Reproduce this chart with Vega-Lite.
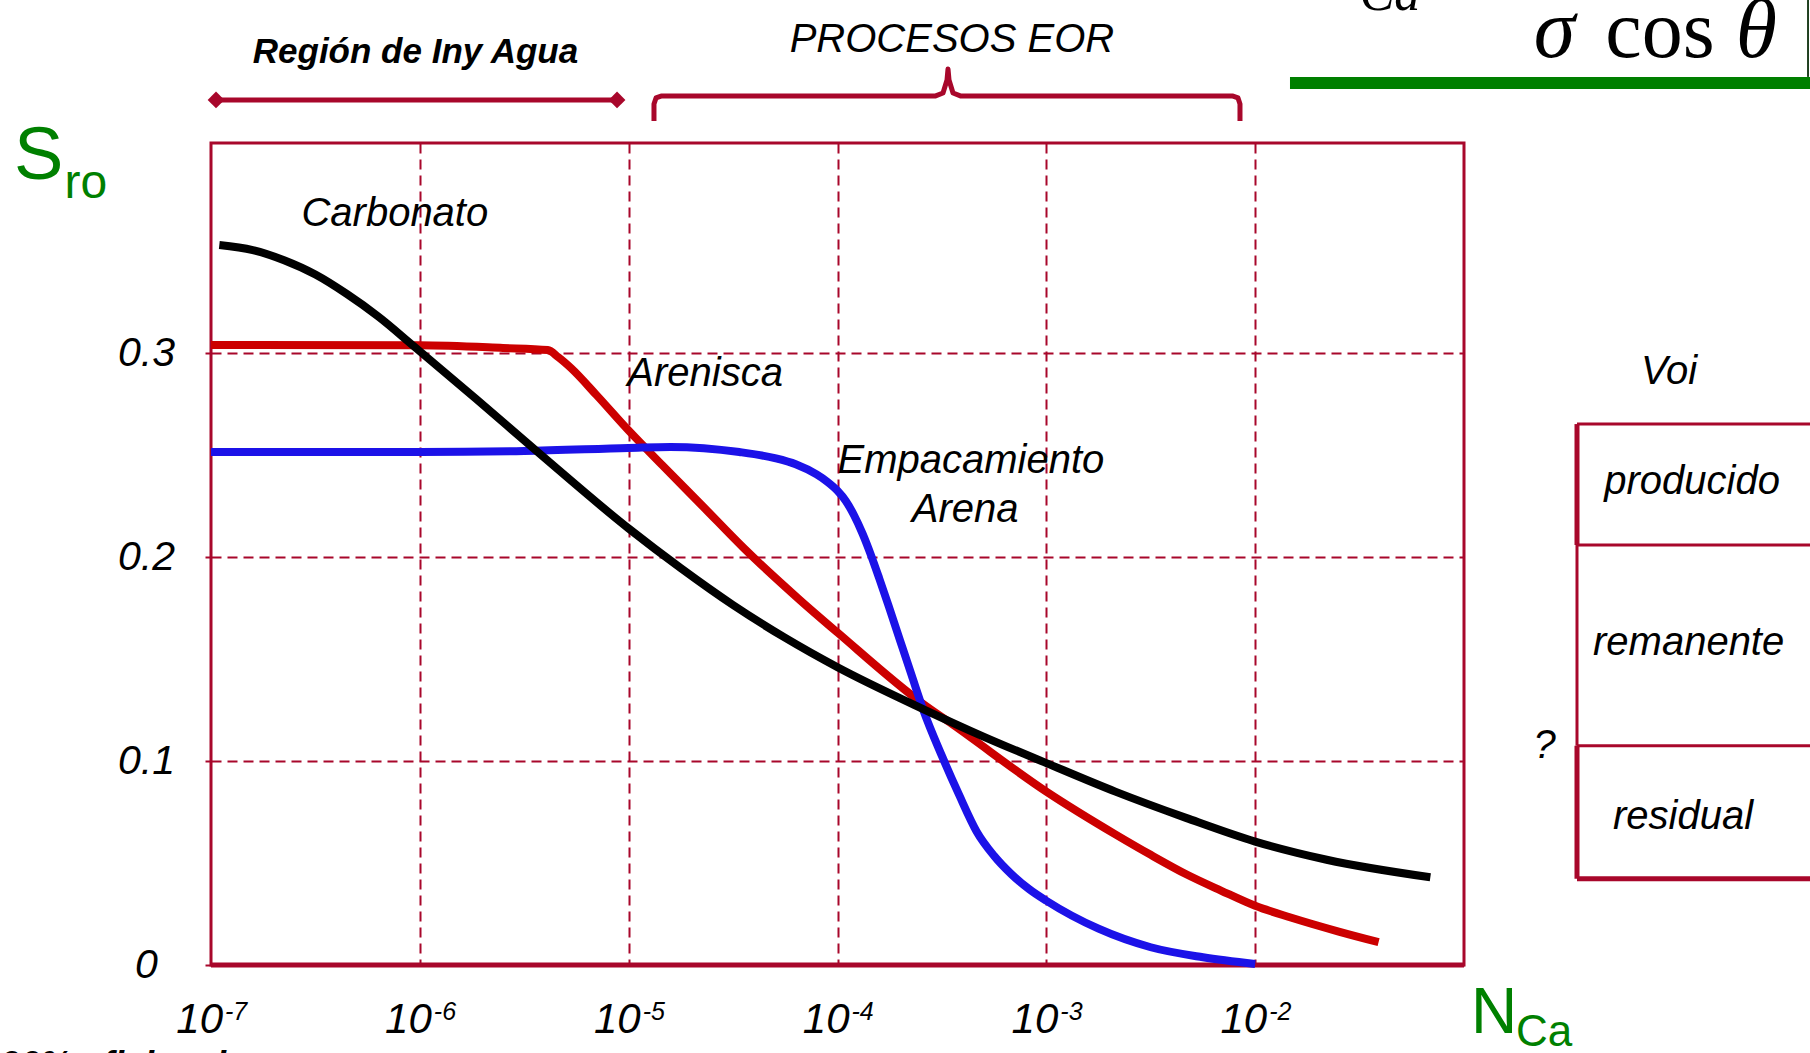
{
  "$schema": "https://vega.github.io/schema/vega-lite/v6.json",
  "width": 1253,
  "height": 822,
  "autosize": {"type": "none"},
  "padding": {"left": 211, "top": 143, "right": 346, "bottom": 88},
  "background": "white",
  "config": {
    "view": {"stroke": "#a8072b", "strokeWidth": 3},
    "text": {"font": "Liberation Sans, Arial, sans-serif"}
  },
  "datasets": {
    "curvas": [
      {"tipo": "Carbonato", "x": 1.096e-7, "y": 0.353},
      {"tipo": "Carbonato", "x": 1.585e-7, "y": 0.3505},
      {"tipo": "Carbonato", "x": 2.239e-7, "y": 0.3455},
      {"tipo": "Carbonato", "x": 3.162e-7, "y": 0.3385},
      {"tipo": "Carbonato", "x": 4.467e-7, "y": 0.329},
      {"tipo": "Carbonato", "x": 6.31e-7, "y": 0.318},
      {"tipo": "Carbonato", "x": 9.33e-7, "y": 0.3035},
      {"tipo": "Carbonato", "x": 1.862e-6, "y": 0.2775},
      {"tipo": "Carbonato", "x": 3.715e-6, "y": 0.251},
      {"tipo": "Carbonato", "x": 1e-5, "y": 0.214},
      {"tipo": "Carbonato", "x": 1.78e-5, "y": 0.1945},
      {"tipo": "Carbonato", "x": 3.16e-5, "y": 0.1765},
      {"tipo": "Carbonato", "x": 5.6e-5, "y": 0.1605},
      {"tipo": "Carbonato", "x": 1e-4, "y": 0.146},
      {"tipo": "Carbonato", "x": 2.57e-4, "y": 0.1255},
      {"tipo": "Carbonato", "x": 5e-4, "y": 0.112},
      {"tipo": "Carbonato", "x": 1e-3, "y": 0.099},
      {"tipo": "Carbonato", "x": 2.14e-3, "y": 0.085},
      {"tipo": "Carbonato", "x": 4.7e-3, "y": 0.072},
      {"tipo": "Carbonato", "x": 1e-2, "y": 0.0605},
      {"tipo": "Carbonato", "x": 2.2e-2, "y": 0.0516},
      {"tipo": "Carbonato", "x": 6.9e-2, "y": 0.043},
      {"tipo": "Arenisca", "x": 1e-7, "y": 0.304},
      {"tipo": "Arenisca", "x": 1e-6, "y": 0.3038},
      {"tipo": "Arenisca", "x": 2.5e-6, "y": 0.3025},
      {"tipo": "Arenisca", "x": 4.1e-6, "y": 0.3015},
      {"tipo": "Arenisca", "x": 4.6e-6, "y": 0.298},
      {"tipo": "Arenisca", "x": 5.3e-6, "y": 0.2926},
      {"tipo": "Arenisca", "x": 7e-6, "y": 0.2795},
      {"tipo": "Arenisca", "x": 1e-5, "y": 0.262},
      {"tipo": "Arenisca", "x": 1.45e-5, "y": 0.245},
      {"tipo": "Arenisca", "x": 2.26e-5, "y": 0.225},
      {"tipo": "Arenisca", "x": 3.55e-5, "y": 0.2045},
      {"tipo": "Arenisca", "x": 6.6e-5, "y": 0.179},
      {"tipo": "Arenisca", "x": 1e-4, "y": 0.163},
      {"tipo": "Arenisca", "x": 2.57e-4, "y": 0.128},
      {"tipo": "Arenisca", "x": 3.55e-4, "y": 0.118},
      {"tipo": "Arenisca", "x": 1e-3, "y": 0.085},
      {"tipo": "Arenisca", "x": 2.16e-3, "y": 0.0638},
      {"tipo": "Arenisca", "x": 3.162e-3, "y": 0.054},
      {"tipo": "Arenisca", "x": 4.677e-3, "y": 0.0445},
      {"tipo": "Arenisca", "x": 6.855e-3, "y": 0.0365},
      {"tipo": "Arenisca", "x": 1e-2, "y": 0.029},
      {"tipo": "Arenisca", "x": 1.479e-2, "y": 0.0233},
      {"tipo": "Arenisca", "x": 2.512e-2, "y": 0.0164},
      {"tipo": "Arenisca", "x": 3.9e-2, "y": 0.0112},
      {"tipo": "Empacamiento Arena", "x": 1e-7, "y": 0.2515},
      {"tipo": "Empacamiento Arena", "x": 1e-6, "y": 0.2515},
      {"tipo": "Empacamiento Arena", "x": 3.162e-6, "y": 0.252},
      {"tipo": "Empacamiento Arena", "x": 1e-5, "y": 0.2535},
      {"tipo": "Empacamiento Arena", "x": 1.585e-5, "y": 0.254},
      {"tipo": "Empacamiento Arena", "x": 3.388e-5, "y": 0.2515},
      {"tipo": "Empacamiento Arena", "x": 5.012e-5, "y": 0.2485},
      {"tipo": "Empacamiento Arena", "x": 6.31e-5, "y": 0.2455},
      {"tipo": "Empacamiento Arena", "x": 7.943e-5, "y": 0.2405},
      {"tipo": "Empacamiento Arena", "x": 8.913e-5, "y": 0.237},
      {"tipo": "Empacamiento Arena", "x": 1e-4, "y": 0.2325},
      {"tipo": "Empacamiento Arena", "x": 1.096e-4, "y": 0.2275},
      {"tipo": "Empacamiento Arena", "x": 1.2e-4, "y": 0.2205},
      {"tipo": "Empacamiento Arena", "x": 1.318e-4, "y": 0.2115},
      {"tipo": "Empacamiento Arena", "x": 1.452e-4, "y": 0.2005},
      {"tipo": "Empacamiento Arena", "x": 1.585e-4, "y": 0.1895},
      {"tipo": "Empacamiento Arena", "x": 1.758e-4, "y": 0.176},
      {"tipo": "Empacamiento Arena", "x": 1.995e-4, "y": 0.159},
      {"tipo": "Empacamiento Arena", "x": 2.265e-4, "y": 0.142},
      {"tipo": "Empacamiento Arena", "x": 2.576e-4, "y": 0.125},
      {"tipo": "Empacamiento Arena", "x": 3.162e-4, "y": 0.1025},
      {"tipo": "Empacamiento Arena", "x": 3.819e-4, "y": 0.0835},
      {"tipo": "Empacamiento Arena", "x": 4.634e-4, "y": 0.0655},
      {"tipo": "Empacamiento Arena", "x": 5.623e-4, "y": 0.0535},
      {"tipo": "Empacamiento Arena", "x": 6.808e-4, "y": 0.0445},
      {"tipo": "Empacamiento Arena", "x": 8.318e-4, "y": 0.037},
      {"tipo": "Empacamiento Arena", "x": 1e-3, "y": 0.0315},
      {"tipo": "Empacamiento Arena", "x": 1.778e-3, "y": 0.0178},
      {"tipo": "Empacamiento Arena", "x": 3.162e-3, "y": 0.0087},
      {"tipo": "Empacamiento Arena", "x": 5.623e-3, "y": 0.0038},
      {"tipo": "Empacamiento Arena", "x": 1e-2, "y": 0.0005}
    ]
  },
  "encoding": {
    "x": {
      "field": "x", "type": "quantitative",
      "scale": {"type": "log", "domain": [1e-7, 0.1], "nice": false},
      "axis": {"title": null, "values": [1e-6, 1e-5, 1e-4, 1e-3, 1e-2], "labels": false, "ticks": false, "domain": false, "grid": true, "gridColor": "#a8072b", "gridDash": [10, 6], "gridWidth": 2, "gridOpacity": 1}
    },
    "y": {
      "field": "y", "type": "quantitative",
      "scale": {"domain": [0, 0.403], "nice": false, "zero": false},
      "axis": {"title": null, "values": [0, 0.1, 0.2, 0.3], "format": "~g", "domain": false, "ticks": true, "tickSize": 6, "tickColor": "#a8072b", "tickWidth": 2, "grid": true, "gridColor": "#a8072b", "gridDash": [10, 6], "gridWidth": 2, "gridOpacity": 1, "labelFont": "Liberation Sans, Arial, sans-serif", "labelFontStyle": "italic", "labelFontSize": 41, "labelColor": "#000000", "labelAlign": "center", "labelBaseline": "middle", "labelPadding": 59}
    }
  },
  "layer": [
    {
      "data": {"values": [{"x": 1e-7, "x2": 0.1, "y": 0}]},
      "mark": {"type": "rule", "color": "#a8072b", "strokeWidth": 5},
      "encoding": {"x2": {"field": "x2"}}
    },
    {
      "data": {"name": "curvas"},
      "transform": [{"filter": "datum.tipo === 'Arenisca'"}],
      "mark": {"type": "line", "color": "#cc0000", "strokeWidth": 8, "interpolate": "monotone"},
      "encoding": {}
    },
    {
      "data": {"name": "curvas"},
      "transform": [{"filter": "datum.tipo === 'Empacamiento Arena'"}],
      "mark": {"type": "line", "color": "#1c12e8", "strokeWidth": 8, "interpolate": "monotone"},
      "encoding": {}
    },
    {
      "data": {"name": "curvas"},
      "transform": [{"filter": "datum.tipo === 'Carbonato'"}],
      "mark": {"type": "line", "color": "#000000", "strokeWidth": 8, "interpolate": "monotone"},
      "encoding": {}
    },
    {
      "data": {"values": [{"x": 1.057e-7, "x2": 8.797e-6, "y": 0.4241}]},
      "mark": {"type": "rule", "color": "#a8072b", "strokeWidth": 5},
      "encoding": {"x2": {"field": "x2"}}
    },
    {
      "data": {"values": [{"x": 1.057e-7, "y": 0.4241}, {"x": 8.797e-6, "y": 0.4241}]},
      "mark": {"type": "point", "shape": "diamond", "filled": true, "size": 280, "color": "#a8072b", "opacity": 1}
    },
    {
      "data": {"values": [
        {"o": 1, "x": 1.322e-5, "y": 0.4138},
        {"o": 2, "x": 1.322e-5, "y": 0.4221},
        {"o": 3, "x": 1.352e-5, "y": 0.4251},
        {"o": 4, "x": 1.429e-5, "y": 0.4260},
        {"o": 5, "x": 2.930e-4, "y": 0.4260},
        {"o": 6, "x": 3.201e-4, "y": 0.4275},
        {"o": 7, "x": 3.345e-4, "y": 0.4339},
        {"o": 8, "x": 3.382e-4, "y": 0.4393},
        {"o": 9, "x": 3.420e-4, "y": 0.4339},
        {"o": 10, "x": 3.574e-4, "y": 0.4275},
        {"o": 11, "x": 3.903e-4, "y": 0.4260},
        {"o": 12, "x": 7.832e-3, "y": 0.4260},
        {"o": 13, "x": 8.277e-3, "y": 0.4251},
        {"o": 14, "x": 8.459e-3, "y": 0.4221},
        {"o": 15, "x": 8.459e-3, "y": 0.4138}
      ]},
      "mark": {"type": "line", "color": "#a8072b", "strokeWidth": 5, "strokeJoin": "round"},
      "encoding": {"order": {"field": "o", "type": "quantitative"}}
    },
    {
      "data": {"values": [
        {"x": 0.3476, "y": 0.2652, "x2": 0.3476, "y2": 0.2059},
        {"x": 0.3476, "y": 0.1075, "x2": 0.3476, "y2": 0.0423},
        {"x": 0.3476, "y": 0.0423, "x2": 5, "y2": 0.0423}
      ]},
      "mark": {"type": "rule", "color": "#a8072b", "strokeWidth": 5},
      "encoding": {"x2": {"field": "x2"}, "y2": {"field": "y2"}}
    },
    {
      "data": {"values": [
        {"x": 0.3476, "y": 0.2652, "x2": 5, "y2": 0.2652},
        {"x": 0.3476, "y": 0.2059, "x2": 0.3476, "y2": 0.1075},
        {"x": 0.3476, "y": 0.2059, "x2": 5, "y2": 0.2059},
        {"x": 0.3476, "y": 0.1075, "x2": 5, "y2": 0.1075}
      ]},
      "mark": {"type": "rule", "color": "#a8072b", "strokeWidth": 3},
      "encoding": {"x2": {"field": "x2"}, "y2": {"field": "y2"}}
    },
    {
      "data": {"values": [{"x": 0.01468, "x2": 5, "y": 0.4354, "y2": 0.4295}]},
      "mark": {"type": "rect", "color": "#007f00"},
      "encoding": {"x2": {"field": "x2"}, "y2": {"field": "y2"}}
    },
    {
      "data": {"values": [{"x": 4.44, "y": 0.4731, "x2": 4.44, "y2": 0.4354}]},
      "mark": {"type": "rule", "color": "#1f3f1f", "strokeWidth": 2},
      "encoding": {"x2": {"field": "x2"}, "y2": {"field": "y2"}}
    },
    {
      "data": {"values": [
        {"x": 7.59e-7, "y": 0.3623, "t": "Carbonato"},
        {"x": 2.323e-5, "y": 0.2841, "t": "Arenisca"},
        {"x": 4.355e-4, "y": 0.2412, "t": "Empacamiento"},
        {"x": 4.083e-4, "y": 0.2173, "t": "Arena"},
        {"x": 3.532e-4, "y": 0.4476, "t": "PROCESOS EOR"},
        {"x": 0.959, "y": 0.2847, "t": "Voi"},
        {"x": 1.236, "y": 0.2309, "t": "producido"},
        {"x": 1.19, "y": 0.1522, "t": "remanente"},
        {"x": 1.119, "y": 0.0668, "t": "residual"},
        {"x": 0.243, "y": 0.1013, "t": "?"}
      ]},
      "mark": {"type": "text", "fontStyle": "italic", "fontSize": 40, "align": "center", "baseline": "alphabetic", "color": "#000000"},
      "encoding": {"text": {"field": "t"}}
    },
    {
      "data": {"values": [{"x": 9.528e-7, "y": 0.4421, "t": "Región de Iny Agua"}]},
      "mark": {"type": "text", "fontStyle": "italic", "fontWeight": "bold", "fontSize": 35, "align": "center", "baseline": "alphabetic", "color": "#000000"},
      "encoding": {"text": {"field": "t"}}
    },
    {
      "data": {"values": [
        {"x": 1e-7, "y": -0.03334, "t": "10"},
        {"x": 1e-6, "y": -0.03334, "t": "10"},
        {"x": 1e-5, "y": -0.03334, "t": "10"},
        {"x": 1e-4, "y": -0.03334, "t": "10"},
        {"x": 1e-3, "y": -0.03334, "t": "10"},
        {"x": 1e-2, "y": -0.03334, "t": "10"}
      ]},
      "mark": {"type": "text", "fontStyle": "italic", "fontSize": 42, "align": "right", "baseline": "alphabetic", "dx": 12, "color": "#000000"},
      "encoding": {"text": {"field": "t"}}
    },
    {
      "data": {"values": [
        {"x": 1e-7, "y": -0.03334, "t": "-7"},
        {"x": 1e-6, "y": -0.03334, "t": "-6"},
        {"x": 1e-5, "y": -0.03334, "t": "-5"},
        {"x": 1e-4, "y": -0.03334, "t": "-4"},
        {"x": 1e-3, "y": -0.03334, "t": "-3"},
        {"x": 1e-2, "y": -0.03334, "t": "-2"}
      ]},
      "mark": {"type": "text", "fontStyle": "italic", "fontSize": 25, "align": "left", "baseline": "alphabetic", "dx": 14, "dy": -13, "color": "#000000"},
      "encoding": {"text": {"field": "t"}}
    },
    {
      "data": {"values": [{"x": 1.139e-8, "y": 0.3854, "t": "S"}]},
      "mark": {"type": "text", "fontSize": 74, "align": "left", "baseline": "alphabetic", "color": "#008000"},
      "encoding": {"text": {"field": "t"}}
    },
    {
      "data": {"values": [{"x": 1.99e-8, "y": 0.3758, "t": "ro"}]},
      "mark": {"type": "text", "fontSize": 48, "align": "left", "baseline": "alphabetic", "color": "#008000"},
      "encoding": {"text": {"field": "t"}}
    },
    {
      "data": {"values": [{"x": 0.108, "y": -0.03334, "t": "N"}]},
      "mark": {"type": "text", "fontSize": 64, "align": "left", "baseline": "alphabetic", "color": "#008000"},
      "encoding": {"text": {"field": "t"}}
    },
    {
      "data": {"values": [{"x": 0.1775, "y": -0.0397, "t": "Ca"}]},
      "mark": {"type": "text", "fontSize": 44, "align": "left", "baseline": "alphabetic", "color": "#008000"},
      "encoding": {"text": {"field": "t"}}
    },
    {
      "data": {"values": [{"x": 0.2711, "y": 0.4452, "t": "σ"}, {"x": 2.51, "y": 0.4452, "t": "θ"}]},
      "mark": {"type": "text", "font": "Liberation Serif, serif", "fontStyle": "italic", "fontSize": 84, "align": "center", "baseline": "alphabetic", "color": "#000000"},
      "encoding": {"text": {"field": "t"}}
    },
    {
      "data": {"values": [{"x": 0.8681, "y": 0.4452, "t": "cos"}]},
      "mark": {"type": "text", "font": "Liberation Serif, serif", "fontSize": 82, "align": "center", "baseline": "alphabetic", "color": "#000000"},
      "encoding": {"text": {"field": "t"}}
    },
    {
      "data": {"values": [{"x": 0.04421, "y": 0.4682, "t": "Ca"}]},
      "mark": {"type": "text", "font": "Liberation Serif, serif", "fontStyle": "italic", "fontSize": 52, "align": "center", "baseline": "alphabetic", "color": "#000000"},
      "encoding": {"text": {"field": "t"}}
    },
    {
      "data": {"values": [{"x": 9.76e-9, "y": -0.0549, "t": "90% eficiencia"}]},
      "mark": {"type": "text", "fontStyle": "italic", "fontWeight": "bold", "fontSize": 36, "align": "left", "baseline": "alphabetic", "color": "#000000"},
      "encoding": {"text": {"field": "t"}}
    }
  ]
}
